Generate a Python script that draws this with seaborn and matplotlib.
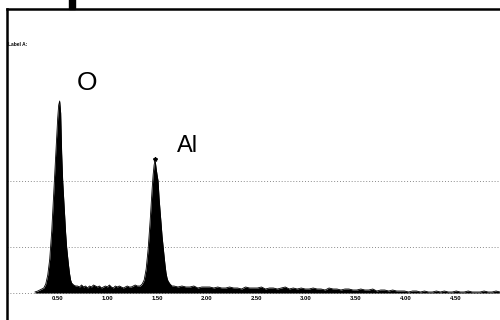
import numpy as np
import matplotlib
matplotlib.use("Agg")
import matplotlib.pyplot as plt
import seaborn as sns
from matplotlib.patches import Rectangle

# spectre EDS (comptes)
energie_o = [0.27, 0.30, 0.32, 0.34, 0.36, 0.38, 0.40, 0.42, 0.44, 0.46, 0.48,
             0.50, 0.51, 0.52, 0.53, 0.54, 0.55, 0.56, 0.57, 0.58, 0.59, 0.60,
             0.61, 0.62, 0.63, 0.64, 0.66, 0.68]
comptes_o = [10, 20, 30, 40, 50, 90, 180, 340, 620, 1000, 1400,
             1750, 1880, 1920, 1800, 1400, 1130, 950, 780, 600, 460, 360,
             270, 190, 130, 100, 80, 70]

# fond entre O et Al (0.70 -> 1.30, pas 0.02)
comptes_fond1 = [70, 60, 80, 60, 70, 50, 70, 60, 80, 70, 60, 70, 50, 60, 70, 60,
                 80, 60, 50, 70, 60, 70, 60, 50, 60, 70, 60, 60, 70, 80, 70]

energie_al = [1.33, 1.35, 1.37, 1.39, 1.41, 1.43, 1.45, 1.46, 1.47, 1.48, 1.49,
              1.50, 1.51, 1.52, 1.53, 1.54, 1.55, 1.56, 1.57, 1.58, 1.59, 1.60,
              1.61, 1.63, 1.65]
comptes_al = [70, 90, 130, 240, 440, 720, 1040, 1180, 1280, 1330, 1250,
              1180, 1120, 950, 820, 700, 570, 470, 370, 280, 200, 150,
              120, 90, 70]

# fond apres Al (1.67 -> 4.95, pas 0.04)
comptes_fond2 = [70, 60, 70, 60, 60, 70, 50, 60, 60,
                 60, 50, 60, 50, 50, 60, 50, 50, 40, 60, 50, 50,
                 50, 60, 40, 50, 50, 40, 50, 60, 40, 50, 40, 50, 40,
                 40, 50, 40, 40, 30, 50, 40, 40, 30, 40, 40, 30,
                 30, 40, 30, 30, 40, 20, 30, 30, 20, 30, 20, 20,
                 20, 10, 20, 20, 10, 20, 10, 10, 20, 10, 20, 10, 10,
                 20, 10, 10, 20, 10, 10, 10, 20, 10, 10, 20, 10]

pics = ["O", "Al"]
energie_pics = [0.52, 1.48]
ticks_kev = [0.50, 1.00, 1.50, 2.00, 2.50, 3.00, 3.50, 4.00, 4.50]
etiquettes_ticks = ["0.50", "1.00", "1.50", "2.00", "2.50", "3.00", "3.50", "4.00", "4.50"]
lignes_grille = [0, 460, 1120]
curseur_kev = 0.64

energie_fond1 = np.round(np.linspace(0.70, 1.30, len(comptes_fond1)), 2)
energie_fond2 = np.round(np.linspace(1.67, 4.95, len(comptes_fond2)), 2)
energie = np.concatenate([energie_o, energie_fond1, energie_al, energie_fond2])
comptes = np.concatenate([comptes_o, comptes_fond1, comptes_al, comptes_fond2])

sns.set_style("white")
plt.rcParams["font.family"] = ["Liberation Sans", "DejaVu Sans"]
plt.rcParams["text.color"] = "black"

fig = plt.figure(figsize=(5, 3.2), dpi=100)
ax = fig.add_axes([7 / 500, 0, 493 / 500, 311 / 320])

ax.set_axisbelow(True)
ax.set_yticks(lignes_grille)
ax.set_yticklabels([])
ax.set_xticks([])
ax.tick_params(length=0)
ax.grid(axis="y", color="#8a8a8a", linestyle=(0, (1, 2)), linewidth=0.7)

ax.fill_between(energie, 0, comptes, color="black", linewidth=0)
sns.lineplot(x=energie, y=comptes, color="black", linewidth=0.6, ax=ax)

ax.set_xlim(-0.01, 4.95)
ax.set_ylim(-270, 2840)

for sp in ["right", "bottom"]:
    ax.spines[sp].set_visible(False)
for sp in ["left", "top"]:
    ax.spines[sp].set_color("black")
    ax.spines[sp].set_linewidth(1.8)

for t, lab in zip(ticks_kev, etiquettes_ticks):
    ax.text(t, -60, lab, ha="center", va="center", fontsize=4.2,
            fontweight="bold", color="black")

ax.plot(energie_pics[1], 1340, marker="*", markersize=3, color="black")

ax.text(energie_pics[0] + 0.27, 2100, pics[0], fontsize=19, ha="center",
        va="center", color="black")
ax.text(energie_pics[1] + 0.33, 1470, pics[1], fontsize=17, ha="center",
        va="center", color="black")
ax.text(0.0, 2480, "Label A:", fontsize=3.5, fontweight="bold", ha="left",
        va="center", color="black")

ax.add_patch(Rectangle((curseur_kev - 0.03, 2840), 0.06, 300, color="black",
                       clip_on=False))

ax.set_xlabel("")
ax.set_ylabel("")
fig.savefig("out.png", dpi=100, facecolor="white")
